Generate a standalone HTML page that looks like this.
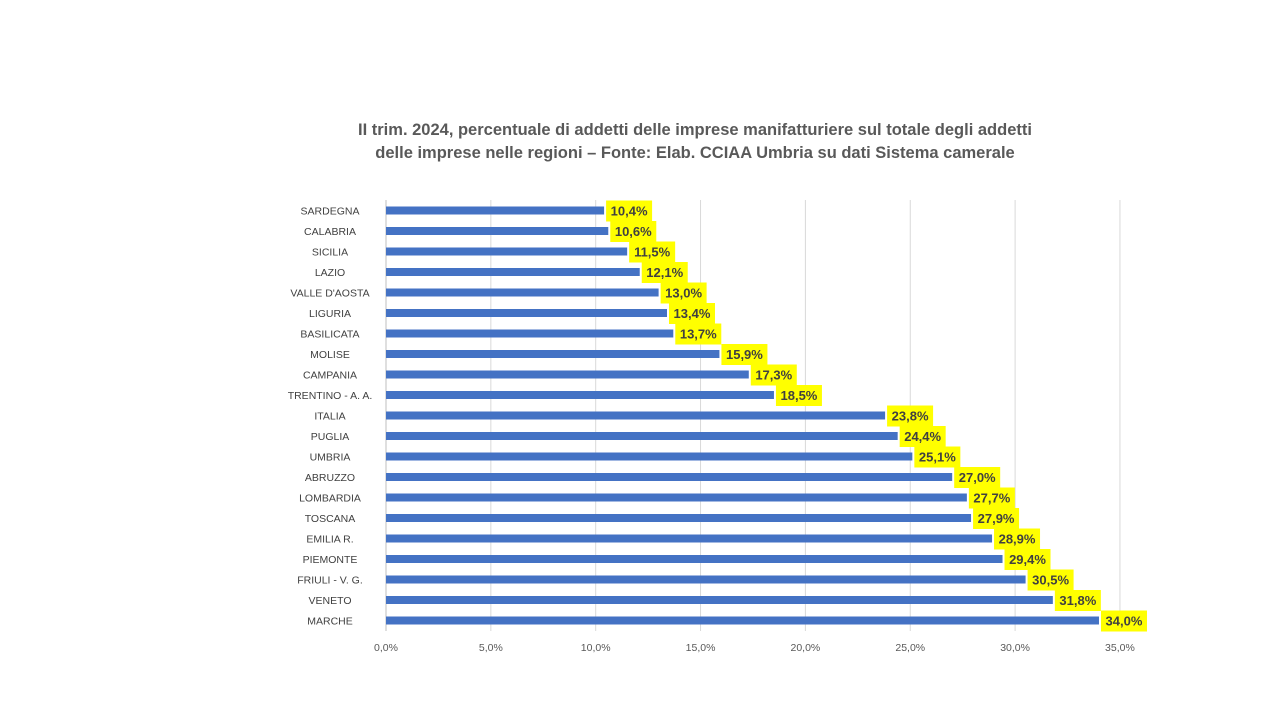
<!DOCTYPE html>
<html><head><meta charset="utf-8"><style>
body{margin:0;background:#fff;width:1280px;height:720px;overflow:hidden;font-family:"Liberation Sans",sans-serif}
</style></head><body>
<svg width="1280" height="720">
<text x="695" y="135" text-anchor="middle" font-size="16.5" font-weight="bold" fill="#595959">II trim. 2024, percentuale di addetti delle imprese manifatturiere sul totale degli addetti</text>
<text x="695" y="158" text-anchor="middle" font-size="16.5" font-weight="bold" fill="#595959">delle imprese nelle regioni – Fonte: Elab. CCIAA  Umbria su dati Sistema camerale</text>
<g id="grid"></g><g id="bars"></g>
</svg>
<script>
const categories=["SARDEGNA","CALABRIA","SICILIA","LAZIO","VALLE D'AOSTA","LIGURIA","BASILICATA","MOLISE","CAMPANIA","TRENTINO - A. A.","ITALIA","PUGLIA","UMBRIA","ABRUZZO","LOMBARDIA","TOSCANA","EMILIA R.","PIEMONTE","FRIULI - V. G.","VENETO","MARCHE"];
const values=[10.4,10.6,11.5,12.1,13.0,13.4,13.7,15.9,17.3,18.5,23.8,24.4,25.1,27.0,27.7,27.9,28.9,29.4,30.5,31.8,34.0];
const ticks=[0,5,10,15,20,25,30,35];
const NS="http://www.w3.org/2000/svg";
const x=v=>386+v*20.97;
const y=i=>210.5+i*20.5;
const g=document.getElementById('grid'),b=document.getElementById('bars');
function mk(t,a,p){const e=document.createElementNS(NS,t);for(const k in a)e.setAttribute(k,a[k]);p.appendChild(e);return e;}
ticks.forEach(t=>{
 const l=mk('line',{x1:x(t),x2:x(t),y1:200,y2:631,stroke:t===0?'#bfbfbf':'#d9d9d9','stroke-width':1},g);
 
 
 const tx=mk('text',{x:x(t),y:651,'text-anchor':'middle','font-size':10.5,fill:'#595959'},g);
 tx.textContent=t.toFixed(1).replace('.',',')+'%';
 
 
});
categories.forEach((c,i)=>{
 const cy=y(i);
 const lt=mk('text',{x:330,y:cy+4,'text-anchor':'middle','font-size':10.5,fill:'#404040'},b);
 lt.textContent=c;
 
 
 const r=mk('rect',{x:x(0),y:cy-4,width:x(values[i])-x(0),height:8,fill:'#4472c4'},b);
 
 
 const bx=mk('rect',{x:x(values[i])+2,y:cy-10,width:46,height:21,fill:'#ffff00'},b);
 
 
 const vt=mk('text',{x:x(values[i])+25,y:cy+5,'text-anchor':'middle','font-size':13,'font-weight':'bold',fill:'#404040'},b);
 vt.textContent=values[i].toFixed(1).replace('.',',')+'%';
 
 
});
</script>
</body></html>
